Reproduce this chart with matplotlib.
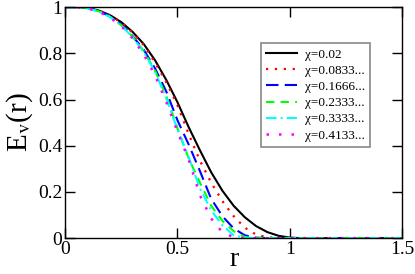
import matplotlib
matplotlib.use("Agg")
import matplotlib.pyplot as plt
from matplotlib.ticker import FuncFormatter

r = [0.0, 0.05, 0.1, 0.15, 0.2, 0.25, 0.3, 0.35, 0.4, 0.45, 0.5, 0.55, 0.6, 0.65, 0.7,
     0.75, 0.8, 0.85, 0.9, 0.95, 1.0, 1.05, 1.1, 1.2, 1.3, 1.4, 1.5]

e_002 = [1.0, 1.0, 0.997, 0.985, 0.965, 0.935, 0.893, 0.84, 0.77, 0.685, 0.588, 0.48, 0.38,
         0.285, 0.205, 0.14, 0.09, 0.052, 0.026, 0.01, 0.002, 0.0, 0.0, 0.0, 0.0, 0.0, 0.0]
e_0083 = [1.0, 1.0, 0.997, 0.985, 0.964, 0.933, 0.89, 0.835, 0.76, 0.675, 0.575, 0.45, 0.335,
          0.24, 0.16, 0.095, 0.045, 0.015, 0.004, 0.0, 0.0, 0.0, 0.0, 0.0, 0.0, 0.0, 0.0]
e_0166 = [1.0, 1.0, 0.996, 0.983, 0.96, 0.925, 0.875, 0.815, 0.735, 0.635, 0.51, 0.405, 0.29,
          0.17, 0.095, 0.042, 0.012, 0.002, 0.0, 0.0, 0.0, 0.0, 0.0, 0.0, 0.0, 0.0, 0.0]
e_0233 = [1.0, 1.0, 0.996, 0.982, 0.958, 0.922, 0.872, 0.81, 0.725, 0.615, 0.475, 0.345, 0.24,
          0.14, 0.075, 0.03, 0.005, 0.0, 0.0, 0.0, 0.0, 0.0, 0.0, 0.0, 0.0, 0.0, 0.0]
e_0333 = [1.0, 1.0, 0.995, 0.981, 0.957, 0.92, 0.87, 0.805, 0.72, 0.605, 0.47, 0.35, 0.215,
          0.12, 0.055, 0.012, 0.002, 0.0, 0.0, 0.0, 0.0, 0.0, 0.0, 0.0, 0.0, 0.0, 0.0]
e_0413 = [1.0, 1.0, 0.995, 0.98, 0.955, 0.918, 0.865, 0.795, 0.705, 0.59, 0.46, 0.34, 0.185,
          0.085, 0.025, 0.004, 0.0, 0.0, 0.0, 0.0, 0.0, 0.0, 0.0, 0.0, 0.0, 0.0, 0.0]

labels = ["χ=0.02", "χ=0.0833...", "χ=0.1666...", "χ=0.2333...", "χ=0.3333...", "χ=0.4133..."]
xticks = [0, 0.5, 1, 1.5]
yticks = [0, 0.2, 0.4, 0.6, 0.8, 1]

plt.rcParams['font.family'] = ['Liberation Serif', 'DejaVu Serif']
plt.rcParams['mathtext.fontset'] = 'stix'

fig = plt.figure(figsize=(4.15, 2.74), dpi=100)
ax = fig.add_axes([0.157, 0.131, 0.812, 0.843])

series = [e_002, e_0083, e_0166, e_0233, e_0333, e_0413]
styles = [
    dict(color='black', linestyle='-', lw=1.5),
    dict(color='#ff0000', linestyle=(0, (1, 3)), lw=1.6),
    dict(color='#0000ff', linestyle=(0, (6, 3)), lw=1.5),
    dict(color='#00ff00', linestyle=(0, (4, 3)), lw=1.5),
    dict(color='#00ffff', linestyle=(0, (5, 2, 1, 2)), lw=1.5),
    dict(color='#ff00ff', linestyle=(0, (1, 4)), lw=1.8),
]
for ys, st, lab in zip(series, styles, labels):
    ax.plot(r, ys, label=lab, **st)

ax.set_xlim(0, 1.5)
ax.set_ylim(0, 1)
ax.set_xticks(xticks)
ax.set_yticks(yticks)
fmt = FuncFormatter(lambda v, p: "%g" % v)
ax.xaxis.set_major_formatter(fmt)
ax.yaxis.set_major_formatter(fmt)
ax.tick_params(direction='in', length=7, width=1, labelsize=14, top=True, right=True, pad=2)
for s in ax.spines.values():
    s.set_linewidth(1.0)

ax.set_xlabel("r", fontsize=20, labelpad=-8)
ax.set_ylabel(r"E$_\mathrm{v}$(r)", fontsize=21, labelpad=2)

leg = ax.legend(loc='upper right', bbox_to_anchor=(0.905, 0.844), borderaxespad=0,
                fontsize=9.5, frameon=True, fancybox=False, edgecolor='#888888',
                framealpha=1, handlelength=2.3, handletextpad=0.6, labelspacing=0.3,
                borderpad=0.4)
leg.get_frame().set_linewidth(1.2)

fig.savefig("out.png", dpi=100)
